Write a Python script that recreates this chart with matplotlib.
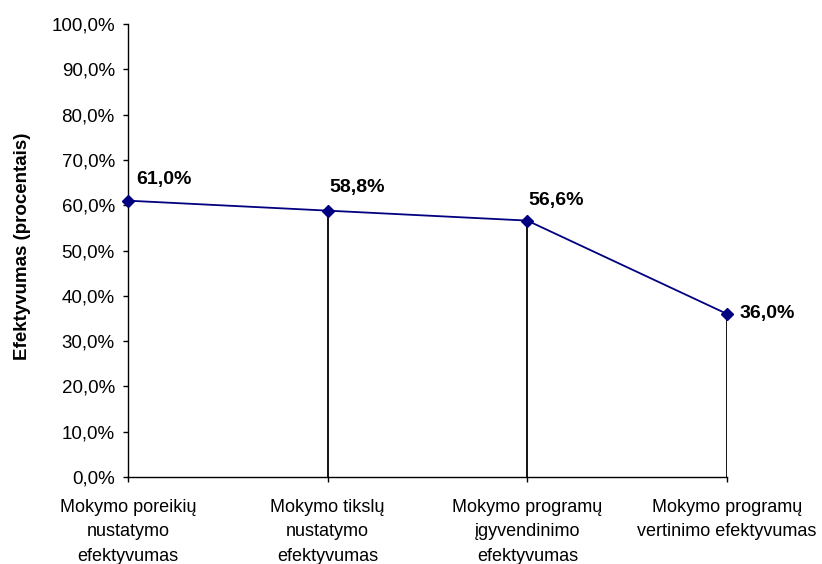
import matplotlib.pyplot as plt
from matplotlib.ticker import FuncFormatter

plt.rcParams['font.family'] = ['Liberation Sans', 'DejaVu Sans']

categories = ['Mokymo poreikių\nnustatymo\nefektyvumas',
              'Mokymo tikslų\nnustatymo\nefektyvumas',
              'Mokymo programų\nįgyvendinimo\nefektyvumas',
              'Mokymo programų\nvertinimo efektyvumas']
values = [61.0, 58.8, 56.6, 36.0]
y_ticks = list(range(0, 101, 10))

# label offsets in points (dx, dy)
label_offsets = [(6, 15), (1, 17), (1, 14.5), (9, 0)]

fig = plt.figure(figsize=(8.22, 5.64), dpi=100)
ax = fig.add_axes([128 / 822, 87 / 564, 599 / 822, 453 / 564])

x = list(range(len(values)))
ax.vlines(x, 0, values, color='black', linewidth=1.3, zorder=2)
ax.plot(x, values, color='#000080', linewidth=1.3, marker='D', markersize=6.5,
        zorder=3, clip_on=False)

for xi, v, (dx, dy) in zip(x, values, label_offsets):
    ax.annotate(f'{v:.1f}%'.replace('.', ','), (xi, v), xytext=(dx, dy),
                textcoords='offset points', ha='left', va='center',
                fontsize=14, fontweight='bold')

ax.set_xlim(0, 3)
ax.set_ylim(0, 100)
ax.set_yticks(y_ticks)
ax.yaxis.set_major_formatter(FuncFormatter(lambda v, p: f'{v:.1f}%'.replace('.', ',')))
ax.set_xticks(x)
ax.set_xticklabels(categories, fontsize=13, linespacing=1.55)
ax.tick_params(axis='y', labelsize=13.5, length=3.5, width=1, direction='out', pad=6)
ax.tick_params(axis='x', length=3.5, width=1, direction='out', pad=12.5)
ax.set_ylabel('Efektyvumas (procentais)', fontsize=13.5, fontweight='bold')
ax.yaxis.set_label_coords(-0.162, 0.51)

ax.spines['top'].set_visible(False)
ax.spines['right'].set_visible(False)
ax.spines['left'].set_linewidth(1)
ax.spines['bottom'].set_linewidth(1)

fig.savefig('out.png', dpi=100)
